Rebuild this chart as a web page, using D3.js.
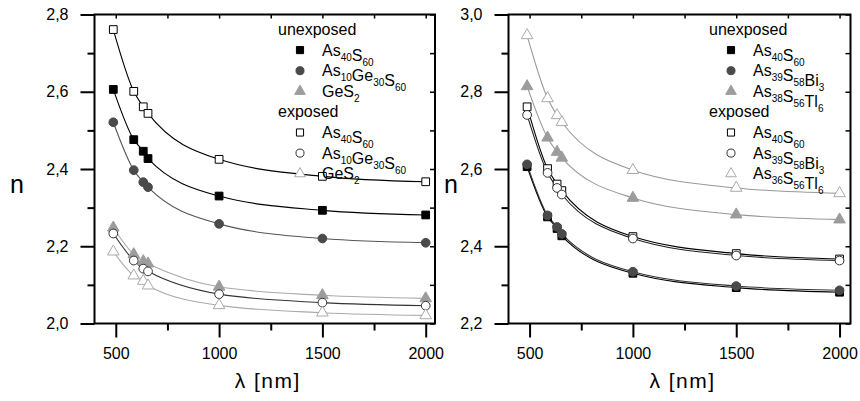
<!DOCTYPE html>
<html>
<head>
<meta charset="utf-8">
<script src="https://cdn.jsdelivr.net/npm/d3@7"></script>
<style>
  body { margin: 0; background: #fff; }
  svg { font-family: "Liberation Sans", Arial, sans-serif; }
</style>
</head>
<body>
<svg id="chart" width="860" height="401"></svg>
<script>
// wavelengths in nm (shared by all series)
const wavelengths = [488, 587, 633, 656, 1000, 1500, 2000];

// left panel
const unexpAs40S60 = [2.606, 2.476, 2.446, 2.427, 2.330, 2.293, 2.281];
const unexpAs10Ge30S60 = [2.521, 2.397, 2.366, 2.353, 2.258, 2.220, 2.209];
const unexpGeS2 = [2.248, 2.179, 2.161, 2.155, 2.095, 2.073, 2.065];
const expAs40S60 = [2.761, 2.601, 2.561, 2.544, 2.425, 2.381, 2.367];
const expAs10Ge30S60 = [2.233, 2.163, 2.142, 2.135, 2.076, 2.054, 2.046];
const expGeS2 = [2.186, 2.124, 2.110, 2.098, 2.047, 2.028, 2.021];

// right panel
const unexpAs39S58Bi3 = [2.612, 2.480, 2.450, 2.432, 2.334, 2.297, 2.286];
const unexpAs38S56Tl6 = [2.814, 2.681, 2.644, 2.629, 2.525, 2.482, 2.469];
const expAs39S58Bi3 = [2.740, 2.590, 2.551, 2.534, 2.420, 2.376, 2.363];
const expAs36S56Tl6 = [2.946, 2.783, 2.739, 2.721, 2.597, 2.551, 2.537];

const xTicks = [500, 1000, 1500, 2000];
const xMinorTicks = [750, 1250, 1750];
const leftYTicks = [2.0, 2.2, 2.4, 2.6, 2.8];
const rightYTicks = [2.2, 2.4, 2.6, 2.8, 3.0];

const svg = d3.select("#chart");

// marker styles
const styles = {
  fSquare: { type: d3.symbolSquare, size: 60, fill: "#000", stroke: "#000" },
  fCircle: { type: d3.symbolCircle, size: 60, fill: "#4a4a4a", stroke: "#4a4a4a" },
  fTri: { type: d3.symbolTriangle, size: 58, fill: "#9c9c9c", stroke: "#9c9c9c" },
  oSquare: { type: d3.symbolSquare, size: 60, fill: "#fff", stroke: "#000" },
  oCircle: { type: d3.symbolCircle, size: 60, fill: "#fff", stroke: "#333" },
  oTri: { type: d3.symbolTriangle, size: 58, fill: "#fff", stroke: "#aaa" }
};

function drawPanel(p) {
  const g = svg.append("g");
  const x = d3.scaleLinear().domain(p.xDomain).range([p.left, p.right]);
  const y = d3.scaleLinear().domain(p.yDomain).range([p.bottom, p.top]);

  // frame
  g.append("rect")
    .attr("x", p.left).attr("y", p.top)
    .attr("width", p.right - p.left).attr("height", p.bottom - p.top)
    .attr("fill", "none").attr("stroke", "#000").attr("stroke-width", 2);

  // bottom axis (outer ticks)
  const xAxis = d3.axisBottom(x).tickValues(xTicks).tickSize(14).tickSizeOuter(0)
    .tickFormat(d3.format("d"));
  const gx = g.append("g").attr("transform", `translate(0,${p.bottom})`).call(xAxis);
  gx.select(".domain").remove();
  gx.selectAll("line").attr("stroke-width", 2);
  gx.selectAll("text").attr("font-size", 16).attr("fill", "#000").attr("dy", "1.15em");
  g.append("g").attr("transform", `translate(0,${p.bottom})`)
    .call(d3.axisBottom(x).tickValues(xMinorTicks).tickSize(7).tickFormat(""))
    .call(s => s.select(".domain").remove())
    .selectAll("line").attr("stroke-width", 2);

  // top inner ticks
  g.append("g").attr("transform", `translate(0,${p.top})`)
    .call(d3.axisBottom(x).tickValues(xTicks.concat(xMinorTicks)).tickSize(4).tickFormat(""))
    .call(s => s.select(".domain").remove())
    .selectAll("line").attr("stroke-width", 1.5);

  // left axis
  const yAxis = d3.axisLeft(y).tickValues(p.yTicks).tickSize(14).tickSizeOuter(0)
    .tickFormat(d => d3.format(".1f")(d).replace(".", ","));
  const gy = g.append("g").attr("transform", `translate(${p.left},0)`).call(yAxis);
  gy.select(".domain").remove();
  gy.selectAll("line").attr("stroke-width", 2);
  gy.selectAll("text").attr("font-size", 16).attr("fill", "#000").attr("x", -26);
  const yMinor = p.yTicks.slice(0, -1).map(v => +(v + 0.1).toFixed(1));
  g.append("g").attr("transform", `translate(${p.left},0)`)
    .call(d3.axisLeft(y).tickValues(yMinor).tickSize(7).tickFormat(""))
    .call(s => s.select(".domain").remove())
    .selectAll("line").attr("stroke-width", 2);

  // right inner ticks
  g.append("g").attr("transform", `translate(${p.right},0)`)
    .call(d3.axisRight(y).tickValues(p.yTicks.concat(yMinor)).tickSize(-5).tickFormat(""))
    .call(s => s.select(".domain").remove())
    .selectAll("line").attr("stroke-width", 1.5);

  // axis titles
  g.append("text")
    .attr("x", (p.left + p.right) / 2 + 3).attr("y", 388)
    .attr("text-anchor", "middle").attr("font-size", 21).attr("letter-spacing", 1.5)
    .text("λ [nm]");
  g.append("text")
    .attr("x", p.nX).attr("y", 193)
    .attr("font-size", 25)
    .text("n");

  // curves
  const line = d3.line().x(d => x(d[0])).y(d => y(d[1])).curve(d3.curveMonotoneX);
  p.series.forEach(s => {
    g.append("path")
      .datum(wavelengths.map((w, i) => [w, s.values[i]]))
      .attr("d", line)
      .attr("fill", "none")
      .attr("stroke", s.line)
      .attr("stroke-width", 1.1);
  });

  // markers
  p.series.forEach(s => {
    const st = styles[s.marker];
    g.append("g").selectAll("path")
      .data(wavelengths.map((w, i) => [w, s.values[i]]))
      .join("path")
      .attr("transform", d => `translate(${x(d[0])},${y(d[1])})`)
      .attr("d", d3.symbol().type(st.type).size(st.size))
      .attr("fill", st.fill)
      .attr("stroke", st.stroke)
      .attr("stroke-width", 1);
  });

  // legend
  const lg = g.append("g");
  const rowH = 20.6;
  let row = 0;
  p.legend.forEach(grp => {
    lg.append("text")
      .attr("x", p.legX).attr("y", 35 + row * rowH)
      .attr("font-size", 16).text(grp.title);
    row++;
    grp.items.forEach(it => {
      const yy = 35 + row * rowH;
      const st = styles[it.marker];
      lg.append("path")
        .attr("transform", `translate(${p.legX + 22},${yy - 5.5})`)
        .attr("d", d3.symbol().type(st.type).size(st.size * 0.85))
        .attr("fill", st.fill).attr("stroke", st.stroke).attr("stroke-width", 1);
      const t = lg.append("text").attr("x", p.legX + 44).attr("y", yy).attr("font-size", 16);
      it.label.forEach(part => {
        t.append("tspan").text(part[0]);
        if (part[1]) {
          t.append("tspan").attr("font-size", 10).attr("dy", 5).text(part[1]);
          t.append("tspan").attr("dy", -5).text("");
        }
      });
      row++;
    });
  });
}

drawPanel({
  left: 94.5, right: 435, top: 14.5, bottom: 323.5,
  xDomain: [397, 2045], yDomain: [2.0, 2.8], yTicks: leftYTicks,
  nX: 10, legX: 278,
  series: [
    { values: expAs40S60, marker: "oSquare", line: "#000" },
    { values: unexpAs40S60, marker: "fSquare", line: "#000" },
    { values: unexpAs10Ge30S60, marker: "fCircle", line: "#555" },
    { values: unexpGeS2, marker: "fTri", line: "#aaa" },
    { values: expAs10Ge30S60, marker: "oCircle", line: "#333" },
    { values: expGeS2, marker: "oTri", line: "#aaa" }
  ],
  legend: [
    { title: "unexposed", items: [
      { marker: "fSquare", label: [["As", "40"], ["S", "60"]] },
      { marker: "fCircle", label: [["As", "10"], ["Ge", "30"], ["S", "60"]] },
      { marker: "fTri", label: [["GeS", "2"]] }
    ] },
    { title: "exposed", items: [
      { marker: "oSquare", label: [["As", "40"], ["S", "60"]] },
      { marker: "oCircle", label: [["As", "10"], ["Ge", "30"], ["S", "60"]] },
      { marker: "oTri", label: [["GeS", "2"]] }
    ] }
  ]
});

drawPanel({
  left: 508.5, right: 850.5, top: 14.5, bottom: 323.5,
  xDomain: [398, 2053], yDomain: [2.2, 3.0], yTicks: rightYTicks,
  nX: 444, legX: 709,
  series: [
    { values: expAs36S56Tl6, marker: "oTri", line: "#999" },
    { values: unexpAs38S56Tl6, marker: "fTri", line: "#999" },
    { values: expAs40S60, marker: "oSquare", line: "#000" },
    { values: expAs39S58Bi3, marker: "oCircle", line: "#222" },
    { values: unexpAs40S60, marker: "fSquare", line: "#000" },
    { values: unexpAs39S58Bi3, marker: "fCircle", line: "#333" }
  ],
  legend: [
    { title: "unexposed", items: [
      { marker: "fSquare", label: [["As", "40"], ["S", "60"]] },
      { marker: "fCircle", label: [["As", "39"], ["S", "58"], ["Bi", "3"]] },
      { marker: "fTri", label: [["As", "38"], ["S", "56"], ["Tl", "6"]] }
    ] },
    { title: "exposed", items: [
      { marker: "oSquare", label: [["As", "40"], ["S", "60"]] },
      { marker: "oCircle", label: [["As", "39"], ["S", "58"], ["Bi", "3"]] },
      { marker: "oTri", label: [["As", "36"], ["S", "56"], ["Tl", "6"]] }
    ] }
  ]
});
</script>
</body>
</html>
